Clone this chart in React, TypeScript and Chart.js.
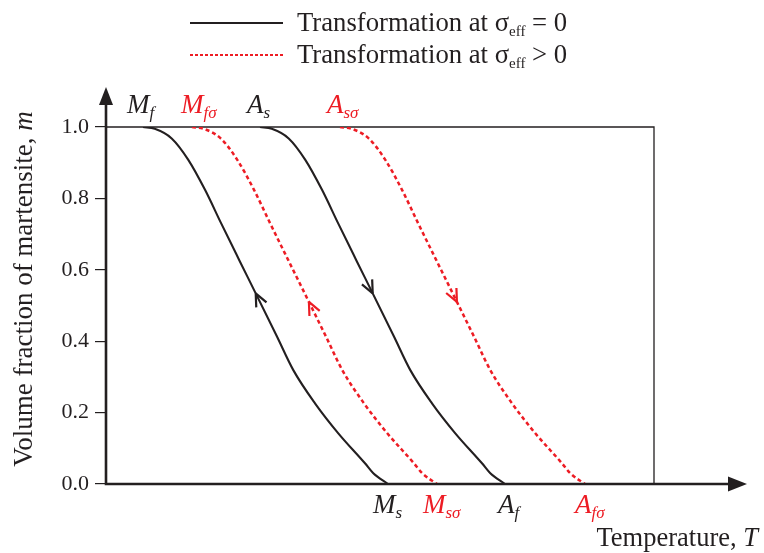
import React, { useEffect, useRef } from 'react';
import { Chart, registerables } from 'chart.js';

Chart.register(...registerables);

// ---- data ----
const martensiteFraction = [1.0, 0.995, 0.968, 0.908, 0.824, 0.73, 0.627, 0.534, 0.413, 0.319, 0.226, 0.142, 0.058, 0.03, 0.0];
const tempCoolingZero = [6.75, 8.9, 11.99, 15.02, 18.07, 21.02, 24.32, 27.32, 31.2, 34.18, 38.14, 42.39, 47.26, 48.78, 51.46];
const tempCoolingStress = [15.69, 17.84, 20.93, 23.96, 27.01, 29.96, 33.26, 36.26, 40.14, 43.12, 47.08, 51.33, 56.2, 57.72, 60.4];
const tempHeatingZero = [28.1, 30.25, 33.34, 36.37, 39.42, 42.37, 45.67, 48.67, 52.55, 55.53, 59.49, 63.74, 68.61, 70.13, 72.81];
const tempHeatingStress = [42.7, 44.85, 47.94, 50.97, 54.02, 56.97, 60.27, 63.27, 67.15, 70.13, 74.09, 78.34, 83.21, 84.73, 87.41];
const yTicks = [0, 0.2, 0.4, 0.6, 0.8, 1.0];
const arrowFractions = [0.534, 0.51, 0.534, 0.51];
const topLabelMain = ['M', 'M', 'A', 'A'];
const topLabelSub = ['f', 'fσ', 's', 'sσ'];
const bottomLabelMain = ['M', 'M', 'A', 'A'];
const bottomLabelSub = ['s', 'sσ', 'f', 'fσ'];
const legendTexts = ['Transformation at σ', 'Transformation at σ'];
const legendSub = ['eff', 'eff'];
const legendTail = [' = 0', ' > 0'];
const yTitle = 'Volume fraction of martensite, ';
const yTitleVar = 'm';
const xTitle = 'Temperature, ';
const xTitleVar = 'T';

const BLACK = '#231f20';
const RED = '#ed1c24';
const FAM = '"Liberation Serif", "Times New Roman", serif';

type Seg = { t: string; size: number; italic?: boolean; dy?: number; color?: string };

function font(size: number, italic?: boolean) {
  return `${italic ? 'italic ' : ''}${size}px ${FAM}`;
}

function richWidth(ctx: CanvasRenderingContext2D, segs: Seg[]) {
  let w = 0;
  for (const s of segs) {
    ctx.font = font(s.size, s.italic);
    w += ctx.measureText(s.t).width;
  }
  return w;
}

function drawRich(ctx: CanvasRenderingContext2D, x: number, y: number, segs: Seg[], color: string) {
  let cx = x;
  ctx.textAlign = 'left';
  for (const s of segs) {
    ctx.font = font(s.size, s.italic);
    ctx.fillStyle = s.color || color;
    ctx.fillText(s.t, cx, y + (s.dy || 0));
    cx += ctx.measureText(s.t).width;
  }
}

const seriesX = [tempCoolingZero, tempCoolingStress, tempHeatingZero, tempHeatingStress];
const seriesColor = [BLACK, RED, BLACK, RED];
const seriesDash = [[], [4, 3], [], [4, 3]];
const seriesCooling = [true, true, false, false];
const topDx = [-16, -11, -13, -13];
const bottomDx = [-15, -14, -7, -10];

const decor = {
  id: 'decor',
  beforeDatasetsDraw(chart: any) {
    const { ctx, chartArea } = chart;
    ctx.save();
    ctx.strokeStyle = BLACK;
    ctx.lineWidth = 1.3;
    ctx.beginPath();
    ctx.moveTo(chartArea.left, chartArea.top);
    ctx.lineTo(chartArea.right, chartArea.top);
    ctx.lineTo(chartArea.right, chartArea.bottom);
    ctx.stroke();
    ctx.restore();
  },
  afterDatasetsDraw(chart: any) {
    const { ctx, chartArea, scales } = chart;
    const xs = scales.x;
    const ys = scales.y;
    ctx.save();
    // axes
    ctx.strokeStyle = BLACK;
    ctx.fillStyle = BLACK;
    ctx.lineWidth = 2.6;
    ctx.beginPath();
    ctx.moveTo(chartArea.left, chartArea.bottom + 1.3);
    ctx.lineTo(chartArea.left, chartArea.top - 22);
    ctx.moveTo(chartArea.left - 1.3, chartArea.bottom);
    ctx.lineTo(chartArea.right + 76, chartArea.bottom);
    ctx.stroke();
    ctx.beginPath();
    ctx.moveTo(chartArea.left, chartArea.top - 40);
    ctx.lineTo(chartArea.left - 7, chartArea.top - 22);
    ctx.lineTo(chartArea.left + 7, chartArea.top - 22);
    ctx.closePath();
    ctx.fill();
    ctx.beginPath();
    ctx.moveTo(chartArea.right + 93, chartArea.bottom);
    ctx.lineTo(chartArea.right + 74, chartArea.bottom - 7.5);
    ctx.lineTo(chartArea.right + 74, chartArea.bottom + 7.5);
    ctx.closePath();
    ctx.fill();

    // direction chevrons
    seriesX.forEach((xsArr, i) => {
      const target = arrowFractions[i];
      let k = 0;
      while (k < martensiteFraction.length - 1 && martensiteFraction[k + 1] > target) k++;
      const m0 = martensiteFraction[k], m1 = martensiteFraction[k + 1];
      const f = (m0 - target) / (m0 - m1);
      const p0x = xs.getPixelForValue(xsArr[k]), p0y = ys.getPixelForValue(m0);
      const p1x = xs.getPixelForValue(xsArr[k + 1]), p1y = ys.getPixelForValue(m1);
      const tx = p0x + (p1x - p0x) * f, ty = p0y + (p1y - p0y) * f;
      let dx = p1x - p0x, dy = p1y - p0y;
      const L = Math.hypot(dx, dy);
      dx /= L; dy /= L;
      if (seriesCooling[i]) { dx = -dx; dy = -dy; }
      const bx = -dx, by = -dy;
      const ang = 0.42, len = 14;
      ctx.strokeStyle = seriesColor[i];
      ctx.lineWidth = 2.2;
      ctx.setLineDash([]);
      ctx.beginPath();
      for (const s of [1, -1]) {
        const c = Math.cos(s * ang), sn = Math.sin(s * ang);
        const rx = bx * c - by * sn, ry = bx * sn + by * c;
        ctx.moveTo(tx + rx * len, ty + ry * len);
        ctx.lineTo(tx, ty);
      }
      ctx.stroke();
    });

    // transformation temperature labels
    ctx.textBaseline = 'alphabetic';
    seriesX.forEach((xsArr, i) => {
      const sx = xs.getPixelForValue(xsArr[0]);
      drawRich(ctx, sx + topDx[i], chartArea.top - 14, [
        { t: topLabelMain[i], size: 27, italic: true },
        { t: topLabelSub[i], size: 17, italic: true, dy: 5 },
      ], seriesColor[i]);
      const ex = xs.getPixelForValue(xsArr[xsArr.length - 1]);
      drawRich(ctx, ex + bottomDx[i], chartArea.bottom + 29, [
        { t: bottomLabelMain[i], size: 27, italic: true },
        { t: bottomLabelSub[i], size: 17, italic: true, dy: 5 },
      ], seriesColor[i]);
    });

    // x title
    const xt: Seg[] = [{ t: xTitle, size: 26.5 }, { t: xTitleVar, size: 26.5, italic: true }];
    const xw = richWidth(ctx, xt);
    drawRich(ctx, 758 - xw, 546, xt, BLACK);

    // y title
    const yt: Seg[] = [{ t: yTitle, size: 27 }, { t: yTitleVar, size: 27, italic: true }];
    const yw = richWidth(ctx, yt);
    ctx.save();
    ctx.translate(32, 289);
    ctx.rotate(-Math.PI / 2);
    drawRich(ctx, -yw / 2, 0, yt, BLACK);
    ctx.restore();

    // legend
    const rows = [23, 55];
    rows.forEach((ly, i) => {
      ctx.strokeStyle = i === 0 ? BLACK : RED;
      ctx.lineWidth = 2;
      ctx.setLineDash(i === 0 ? [] : [3, 2]);
      ctx.beginPath();
      ctx.moveTo(190, ly);
      ctx.lineTo(283, ly);
      ctx.stroke();
      ctx.setLineDash([]);
      drawRich(ctx, 297, ly + 8, [
        { t: legendTexts[i], size: 26.7 },
        { t: legendSub[i], size: 15, dy: 5 },
        { t: legendTail[i], size: 26.7 },
      ], BLACK);
    });
    ctx.restore();
  },
};

export default function App() {
  const ref = useRef<HTMLCanvasElement | null>(null);
  useEffect(() => {
    if (!ref.current) return;
    const datasets = seriesX.map((arr, i) => ({
      data: arr.map((x, k) => ({ x, y: martensiteFraction[k] })),
      borderColor: seriesColor[i],
      borderWidth: i % 2 === 0 ? 2.1 : 2.5,
      borderDash: seriesDash[i],
      pointRadius: 0,
      fill: false,
      cubicInterpolationMode: 'monotone' as const,
    }));
    const chart = new Chart(ref.current, {
      type: 'line',
      data: { datasets },
      options: {
        animation: false,
        responsive: false,
        maintainAspectRatio: false,
        devicePixelRatio: 1,
        layout: { padding: { left: 0, right: 110, top: 127, bottom: 69 } },
        plugins: { legend: { display: false }, tooltip: { enabled: false } },
        scales: {
          x: { type: 'linear', min: 0, max: 100, display: false },
          y: {
            type: 'linear',
            min: 0,
            max: 1,
            afterFit: (s: any) => { s.width = 106; },
            afterBuildTicks: (s: any) => { s.ticks = yTicks.map((v) => ({ value: v })); },
            ticks: {
              callback: (v: any) => Number(v).toFixed(1),
              color: BLACK,
              font: { family: FAM, size: 22 },
              padding: 6,
            },
            grid: { drawOnChartArea: false, drawTicks: true, tickLength: 11, color: BLACK, lineWidth: 1.2 },
            border: { display: false },
          },
        },
      } as any,
      plugins: [decor],
    });
    return () => chart.destroy();
  }, []);
  return (
    <div style={{ position: 'absolute', left: 0, top: 0, width: 764, height: 553, background: '#fff' }}>
      <canvas ref={ref} width={764} height={553} style={{ display: 'block' }} />
    </div>
  );
}
